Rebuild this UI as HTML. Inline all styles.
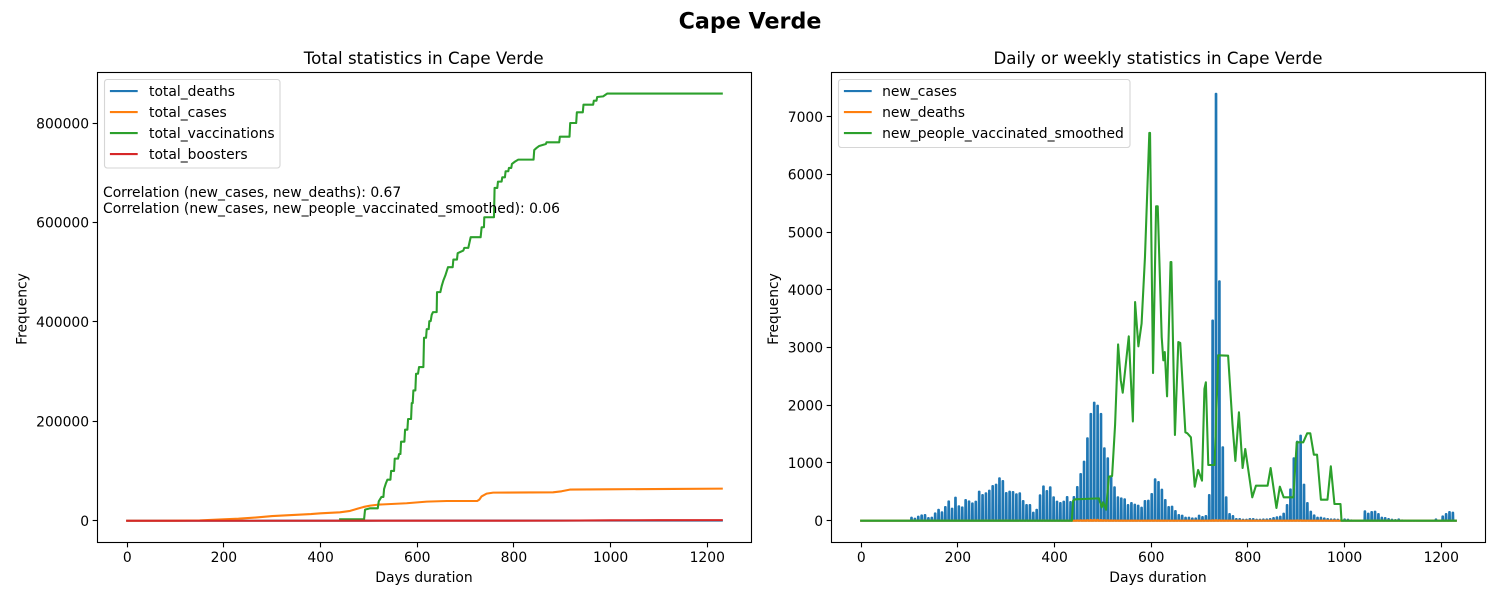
<!DOCTYPE html>
<html lang="en">
<head>
<meta charset="utf-8">
<title>Cape Verde</title>
<style>
html,body{margin:0;padding:0;background:#fff;}
svg{display:block;}
text{font-family:"DejaVu Sans","Liberation Sans",sans-serif;fill:#000;}
.tick{font-size:13.89px;}
.leg{font-size:13.89px;}
.label{font-size:13.89px;}
.title{font-size:16.67px;}
</style>
</head>
<body>
<svg id="fig" xmlns="http://www.w3.org/2000/svg" width="1500" height="600" viewBox="0 0 1500 600">
<rect x="0" y="0" width="1500" height="600" fill="#fff"/>
<text x="750" y="28.5" text-anchor="middle" style="font-size:22.2px;font-weight:bold">Cape Verde</text>
<g id="left"></g>
<g id="right"></g>
</svg>
<script>
const xTicks = [0, 200, 400, 600, 800, 1000, 1200];
const leftYTicks = [0, 200000, 400000, 600000, 800000];
const rightYTicks = [0, 1000, 2000, 3000, 4000, 5000, 6000, 7000];

const totalDeathsDays = [0, 150, 300, 450, 500, 600, 750, 900, 1230];
const totalDeathsValues = [0, 5, 90, 160, 230, 320, 350, 400, 420];

const totalCasesDays = [0, 60, 100, 150, 200, 230, 265, 300, 340, 380, 400, 440, 461, 475, 489, 502.5, 519.7, 578, 619.6, 661, 724, 728.4, 733, 743.5, 757, 881, 898.5, 915.7, 991.4, 1129, 1230];
const totalCasesValues = [0, 10, 200, 800, 3000, 4200, 6500, 9500, 11500, 13500, 15000, 17000, 19800, 23800, 27800, 30500, 32500, 35200, 38500, 39800, 39800, 42500, 49000, 54600, 56600, 57300, 59300, 62700, 63300, 64000, 64600];

const totalVaccDays = [440.5, 490, 492, 502.5, 518.3, 520.4, 525.9, 530, 531.4, 534.9, 538.3, 544.5, 545.9, 552, 553.4, 560.3, 562.4, 565.2, 566.5, 573.4, 574.8, 579.6, 581, 587.2, 588.6, 590.6, 592, 596.1, 597.5, 601.6, 603.7, 612.7, 614, 618.2, 619.6, 623.7, 625, 627.8, 629.9, 632.6, 640.2, 640.9, 647.8, 650.5, 654, 658.1, 663.6, 673.3, 674.7, 682.2, 683.6, 695.3, 697.4, 705.6, 710.5, 731.1, 733.2, 738, 738.7, 758.7, 760, 765.6, 767, 774.5, 775.9, 781.4, 782.8, 788.3, 789.7, 794.5, 795.9, 802.1, 809, 840.6, 842, 846.8, 852.3, 866.1, 867.5, 893.7, 895, 915, 916.4, 928.8, 930.2, 942.5, 943.9, 963.9, 965.3, 970.8, 972.2, 984.6, 992.8, 1230];
const totalVaccValues = [3000, 3000, 22400, 25100, 25100, 39200, 47900, 47900, 64000, 74700, 82700, 82700, 100200, 100200, 125000, 125000, 134300, 134300, 159100, 159100, 183200, 183200, 204700, 204700, 236800, 236800, 262300, 262300, 295800, 295800, 309200, 309200, 368200, 368200, 385600, 385600, 401700, 401700, 414400, 419800, 419800, 460000, 460000, 472000, 483400, 493400, 510200, 510200, 525600, 525600, 538300, 543700, 549100, 549100, 570500, 570500, 590600, 590600, 610700, 610700, 669700, 669700, 682400, 682400, 691100, 691100, 703200, 703200, 709900, 709900, 717900, 722600, 726600, 726600, 746000, 750100, 754100, 758100, 761500, 761500, 772800, 772800, 800300, 800300, 821800, 821800, 837200, 837200, 845200, 845200, 852600, 853900, 859500, 859500];

const totalBoostersDays = [0, 700, 900, 1000, 1100, 1230];
const totalBoostersValues = [0, 100, 300, 900, 1200, 1300];

const weeklyStartDay = 104;
const weeklyStepDays = 7;
const newCasesValues = [52, 35, 70, 92, 98, 46, 52, 127, 190, 145, 237, 335, 208, 400, 250, 230, 358, 335, 300, 330, 503, 445, 474, 520, 600, 624, 735, 688, 480, 503, 497, 457, 474, 341, 272, 272, 139, 190, 440, 595, 514, 578, 405, 330, 306, 330, 410, 324, 410, 584, 809, 1023, 1428, 1850, 2046, 1994, 1850, 1254, 1081, 751, 578, 405, 387, 370, 272, 306, 277, 260, 225, 341, 347, 462, 717, 670, 537, 358, 237, 243, 168, 98, 87, 52, 52, 40, 40, 87, 64, 81, 445, 3470, 7400, 4150, 1272, 405, 115, 80, 29, 29, 17, 17, 29, 29, 17, 17, 23, 23, 29, 46, 58, 70, 121, 272, 543, 1081, 1370, 1474, 624, 306, 156, 92, 52, 52, 40, 29, 23, 23, 17, 8, 23, 17, 5, 3, 0, 0, 162, 121, 150, 156, 115, 52, 46, 29, 17, 12, 23, 5, 3, 2, 1, 1, 0, 0, 0, 0, 2, 23, 2, 75, 115, 150, 139];
const newDeathsValues = [0, 0, 0, 1, 0, 0, 1, 1, 0, 2, 1, 3, 1, 2, 1, 2, 3, 2, 1, 3, 2, 3, 4, 2, 4, 3, 5, 3, 4, 2, 3, 2, 3, 1, 1, 2, 1, 1, 3, 4, 3, 2, 2, 1, 1, 2, 2, 1, 3, 4, 6, 8, 10, 14, 16, 15, 12, 9, 7, 5, 4, 3, 2, 2, 1, 2, 2, 1, 1, 2, 2, 3, 4, 3, 2, 2, 1, 1, 0, 1, 0, 0, 0, 0, 0, 0, 0, 1, 3, 8, 9, 6, 2, 1, 0, 0, 0, 0, 0, 0, 0, 0, 0, 0, 0, 0, 0, 0, 0, 0, 1, 1, 2, 3, 4, 4, 2, 1, 0, 0, 0, 0, 0, 0, 0, 0, 0, 0, 0, 0, 0, 0, 0, 0, 1, 0, 0, 0, 0, 0, 0, 0, 0, 0, 0, 0, 0, 0, 0, 0, 0, 0, 0, 0, 0, 0, 0, 0, 0, 0, 0];
const totalDurationDays = 1230;

const vaccSmoothDays = [0, 435.7, 438.4, 442.6, 491.5, 497.7, 500.4, 506.6, 512.2, 519, 525.2, 531.4, 537, 541, 553.5, 562, 566.6, 573.4, 580, 587, 596, 597.5, 603.7, 610, 613.4, 621.6, 625, 628, 632.7, 640, 641.6, 649, 656, 660, 670.6, 674.7, 682, 690, 697, 705, 710, 713, 718, 731, 738.7, 759, 768, 774, 781.4, 789, 794.5, 809, 816.6, 840.7, 847, 859, 866, 874, 894, 901, 914.4, 922.6, 929, 936.4, 943, 951, 964.6, 971.5, 979, 991.5, 993.6, 1230];
const vaccSmoothValues = [0, 0, 347, 370, 387, 231, 318, 191, 763, 774, 1664, 3056, 2432, 2218, 3195, 1720, 3790, 3022, 3415, 4570, 6720, 6720, 2559, 5449, 5449, 3183, 2779, 2923, 2155, 4484, 4484, 1485, 3097, 3080, 1532, 1514, 1445, 590, 879, 694, 2283, 2399, 965, 965, 2866, 2860, 1676, 1035, 1878, 913, 1243, 405, 607, 607, 913, 220, 590, 405, 405, 1358, 1358, 1514, 1514, 1144, 1144, 364, 364, 942, 289, 289, 0, 0];

const NS = 'http://www.w3.org/2000/svg';
const leftPanel = document.getElementById('left');
const rightPanel = document.getElementById('right');

function makeScale(d0, d1, r0, r1) {
  return function (v) { return r0 + (v - d0) * (r1 - r0) / (d1 - d0); };
}
const leftBox = { x0: 97.5, x1: 751.5, y0: 72.5, y1: 542.5 };
const rightBox = { x0: 831.5, x1: 1485.5, y0: 72.5, y1: 542.5 };
const xLeft = makeScale(-61.5, 1291.5, leftBox.x0, leftBox.x1);
const xRight = makeScale(-61.5, 1291.5, rightBox.x0, rightBox.x1);
const yLeft = makeScale(-43740, 901930, leftBox.y1, leftBox.y0);
const yRight = makeScale(-378, 7768, rightBox.y1, rightBox.y0);

function svgEl(tag, attrs, parent) {
  const el = document.createElementNS(NS, tag);
  for (const k in attrs) el.setAttribute(k, attrs[k]);
  parent.appendChild(el);
  return el;
}
function pathFrom(days, values, sx, sy) {
  return days.map(function (d, i) {
    return (i ? 'L' : 'M') + sx(d).toFixed(2) + ' ' + sy(values[i]).toFixed(2);
  }).join('');
}
function drawSeries(parent, days, values, sx, sy, color, name) {
  const p = svgEl('path', { d: pathFrom(days, values, sx, sy), fill: 'none', stroke: color, 'stroke-width': 2.083, 'stroke-linejoin': 'round', 'stroke-linecap': 'square' }, parent);
  
  
  return p;
}
function drawAxes(parent, box, sx, sy, yTicks) {
  xTicks.forEach(function (t) {
    const x = Math.round(sx(t) - 0.5) + 0.5;
    const tk = svgEl('line', { x1: x, x2: x, y1: box.y1, y2: box.y1 + 4.86, stroke: '#000', 'stroke-width': 1.11 }, parent);
    
    
    const lb = svgEl('text', { x: sx(t), y: box.y1 + 19.5, 'text-anchor': 'middle', class: 'tick' }, parent);
    
    
    lb.textContent = String(t);
  });
  yTicks.forEach(function (t) {
    const y = Math.round(sy(t) - 0.5) + 0.5;
    const tk = svgEl('line', { x1: box.x0 - 4.86, x2: box.x0, y1: y, y2: y, stroke: '#000', 'stroke-width': 1.11 }, parent);
    
    
    const lb = svgEl('text', { x: box.x0 - 8.4, y: sy(t) + 5.1, 'text-anchor': 'end', class: 'tick' }, parent);
    
    
    lb.textContent = String(t);
  });
  const frame = svgEl('rect', { x: box.x0, y: box.y0, width: box.x1 - box.x0, height: box.y1 - box.y0, fill: 'none', stroke: '#000', 'stroke-width': 1.11 }, parent);
  
  
}
function drawText(parent, x, y, str, cls, anchor, name, rotate) {
  const attrs = { x: x, y: y, class: cls, 'text-anchor': anchor };
  if (rotate) attrs.transform = 'rotate(-90 ' + x + ' ' + y + ')';
  const t = svgEl('text', attrs, parent);
  
  
  t.textContent = str;
}
function drawLegend(parent, x, y, w, h, textOffset, entries) {
  const g = svgEl('g', {}, parent);
  
  
  svgEl('rect', { x: x, y: y, width: w, height: h, rx: 2.8, ry: 2.8, fill: '#fff', 'fill-opacity': 0.8, stroke: '#ccc', 'stroke-opacity': 0.8, 'stroke-width': 1.11 }, g);
  entries.forEach(function (e, i) {
    const ly = y + 11.6 + i * 21;
    const ln = svgEl('line', { x1: x + 5.4, x2: x + 33.2, y1: ly, y2: ly, stroke: e[1], 'stroke-width': 2.083 }, g);
    
    
    const tx = svgEl('text', { x: x + textOffset, y: ly + 5, class: 'leg' }, g);
    
    
    tx.textContent = e[0];
  });
}
const weeklyDays = newCasesValues.map(function (_, i) { return weeklyStartDay + weeklyStepDays * i; });
const spikeBaseDays = 1;
const spikeTopDays = 0.6;
function spikeSeries(values) {
  const days = [0];
  const vals = [0];
  values.forEach(function (v, i) {
    const d = weeklyDays[i];
    days.push(d - spikeBaseDays, d - spikeTopDays, d + spikeTopDays, d + spikeBaseDays);
    vals.push(0, v, v, 0);
  });
  days.push(totalDurationDays);
  vals.push(0);
  return { days: days, vals: vals };
}

/* left chart */
drawSeries(leftPanel, totalDeathsDays, totalDeathsValues, xLeft, yLeft, '#1f77b4', 'total-deaths-line');
drawSeries(leftPanel, totalCasesDays, totalCasesValues, xLeft, yLeft, '#ff7f0e', 'total-cases-line');
drawSeries(leftPanel, totalVaccDays, totalVaccValues, xLeft, yLeft, '#2ca02c', 'total-vaccinations-line');
drawSeries(leftPanel, totalBoostersDays, totalBoostersValues, xLeft, yLeft, '#d62728', 'total-boosters-line');
drawAxes(leftPanel, leftBox, xLeft, yLeft, leftYTicks);
drawText(leftPanel, 423.7, 64, 'Total statistics in Cape Verde', 'title', 'middle', 'left-chart-title');
drawText(leftPanel, 424, 582, 'Days duration', 'label', 'middle', 'left-x-axis-title');
drawText(leftPanel, 26.5, 309, 'Frequency', 'label', 'middle', 'left-y-axis-title', true);
drawLegend(leftPanel, 104.5, 79.5, 175.5, 88.5, 44.5, [['total_deaths', '#1f77b4'], ['total_cases', '#ff7f0e'], ['total_vaccinations', '#2ca02c'], ['total_boosters', '#d62728']]);
drawText(leftPanel, 103, 197, 'Correlation (new_cases, new_deaths): 0.67', 'label', 'start', 'correlation-deaths-note');
drawText(leftPanel, 103, 213, 'Correlation (new_cases, new_people_vaccinated_smoothed): 0.06', 'label', 'start', 'correlation-vaccinated-note');

/* right chart */
const casesSpikes = spikeSeries(newCasesValues);
const deathsSpikes = spikeSeries(newDeathsValues);
drawSeries(rightPanel, casesSpikes.days, casesSpikes.vals, xRight, yRight, '#1f77b4', 'new-cases-line');
drawSeries(rightPanel, deathsSpikes.days, deathsSpikes.vals, xRight, yRight, '#ff7f0e', 'new-deaths-line');
drawSeries(rightPanel, vaccSmoothDays, vaccSmoothValues, xRight, yRight, '#2ca02c', 'new-people-vaccinated-line');
drawAxes(rightPanel, rightBox, xRight, yRight, rightYTicks);
drawText(rightPanel, 1158, 64, 'Daily or weekly statistics in Cape Verde', 'title', 'middle', 'right-chart-title');
drawText(rightPanel, 1158, 582, 'Days duration', 'label', 'middle', 'right-x-axis-title');
drawText(rightPanel, 778, 309, 'Frequency', 'label', 'middle', 'right-y-axis-title', true);
drawLegend(rightPanel, 838.5, 79.5, 291.5, 68, 43.6, [['new_cases', '#1f77b4'], ['new_deaths', '#ff7f0e'], ['new_people_vaccinated_smoothed', '#2ca02c']]);
</script>
</body>
</html>
